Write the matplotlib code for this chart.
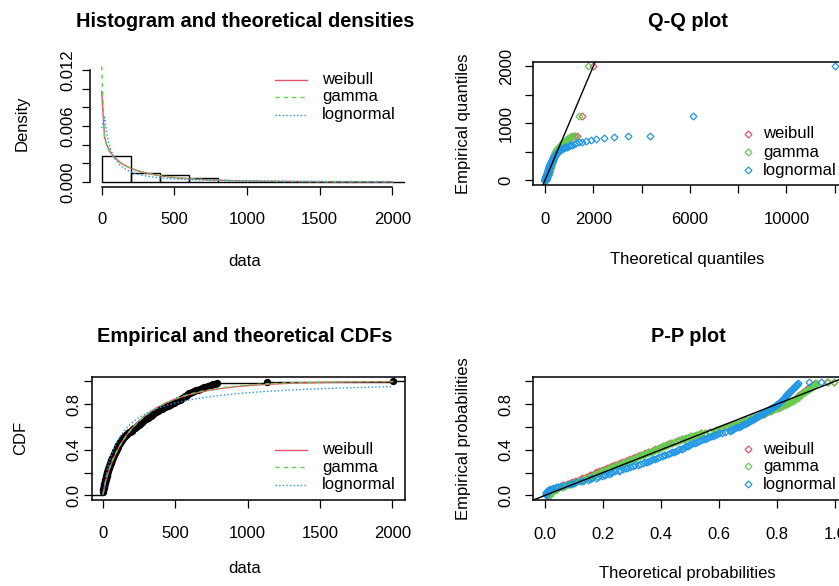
import math
import numpy as np
import matplotlib
matplotlib.use('Agg')
import matplotlib.pyplot as plt
from matplotlib.lines import Line2D

plt.rcParams['font.family'] = ['Liberation Sans', 'DejaVu Sans']

# --- dados (amostra, n = 150) ---
data = np.array([
    1, 1, 1, 1, 1, 2, 2,
    3, 3, 4, 5, 6, 7, 8, 10,
    11, 12, 13, 15, 16, 18, 19,
    20, 22, 23, 25, 26, 27, 29, 30,
    31, 33, 35, 36, 38, 40, 41, 43,
    45, 47, 49, 51, 53, 55, 57,
    59, 61, 63, 65, 67, 69, 72, 74,
    76, 79, 81, 84, 86, 89, 92,
    94, 97, 99, 102, 104, 107, 109, 112,
    115, 118, 122, 126, 130, 134, 138,
    142, 147, 151, 156, 160, 165, 170,
    178, 188, 201, 204,
    208, 214, 220, 227,
    234, 241, 247, 254, 260, 267, 273,
    280, 287, 294, 301, 308, 315, 322, 329,
    338, 346, 354, 362, 370, 378, 386, 394,
    405, 416, 427, 438, 449, 460, 470,
    480, 490, 500, 510, 520, 530, 540, 548,
    557, 565, 573, 581, 589, 596, 603,
    616, 630, 644, 657, 670,
    684, 698, 712, 726,
    748, 764, 776, 786,
    1131, 2004], dtype=float)

# parâmetros ajustados
weibull_shape, weibull_scale = 0.81, 233.0
gamma_shape, gamma_scale = 0.70, 364.0
lnorm_meanlog, lnorm_sdlog = 4.70, 1.73

dist_names = ['weibull', 'gamma', 'lognormal']
dist_colors = ['#DF536B', '#61D04F', '#2297E6']
dist_styles = ['-', (0, (3, 3)), (0, (1, 1.6))]

hist_breaks = np.arange(0, 2201, 200)
hist_xticks = [0, 500, 1000, 1500, 2000]
hist_yticks = [0, 0.002, 0.004, 0.006, 0.008, 0.010, 0.012]
hist_ylabels = ['0.000', '', '', '0.006', '', '', '0.012']
qq_xticks = [0, 2000, 4000, 6000, 8000, 10000, 12000]
qq_xlabels = ['0', '2000', '', '6000', '', '10000', '']
qq_yticks = [0, 500, 1000, 1500, 2000]
qq_ylabels = ['0', '', '1000', '', '2000']
prob_ticks = [0, 0.2, 0.4, 0.6, 0.8, 1.0]
prob_xlabels = ['0.0', '0.2', '0.4', '0.6', '0.8', '1.0']
prob_ylabels = ['0.0', '', '0.4', '', '0.8', '']

# --- densidades, distribuições e quantis ---
erf = np.vectorize(math.erf)


def dweibull(x):
    k, lam = weibull_shape, weibull_scale
    return (k / lam) * (x / lam) ** (k - 1) * np.exp(-(x / lam) ** k)


def pweibull(x):
    return 1 - np.exp(-(x / weibull_scale) ** weibull_shape)


def dgamma(x):
    a, s = gamma_shape, gamma_scale
    return np.exp((a - 1) * np.log(x) - x / s - math.lgamma(a) - a * math.log(s))


def pgamma(x):
    a = gamma_shape
    t = np.asarray(x, dtype=float) / gamma_scale
    term = np.full_like(t, 1.0 / a)
    total = term.copy()
    for k in range(1, 400):
        term = term * t / (a + k)
        total = total + term
    return np.minimum(total * np.exp(a * np.log(t) - t - math.lgamma(a)), 1.0)


def dlnorm(x):
    z = (np.log(x) - lnorm_meanlog) / lnorm_sdlog
    return np.exp(-z ** 2 / 2) / (x * lnorm_sdlog * np.sqrt(2 * np.pi))


def plnorm(x):
    return 0.5 * (1 + erf((np.log(x) - lnorm_meanlog) / (lnorm_sdlog * np.sqrt(2))))


def quantil(cdf, p):
    lo = np.full_like(p, np.log(1e-4))
    hi = np.full_like(p, np.log(1e5))
    for _ in range(80):
        mid = (lo + hi) / 2
        abaixo = cdf(np.exp(mid)) < p
        lo = np.where(abaixo, mid, lo)
        hi = np.where(abaixo, hi, mid)
    return np.exp((lo + hi) / 2)


dens_funcs = [dweibull, dgamma, dlnorm]
cdf_funcs = [pweibull, pgamma, plnorm]

n = len(data)
xs = np.sort(data)
pp = (np.arange(1, n + 1) - 0.5) / n
grid = np.linspace(xs[0], xs[-1], 101)
rng = xs[-1] - xs[0]
data_lim = (xs[0] - 0.04 * rng, xs[-1] + 0.04 * rng)

# --- figura ---
W, H = 839, 586
fig = plt.figure(figsize=(W / 100, H / 100), dpi=100)


def caixa(x0, y0, x1, y1):
    return fig.add_axes([x0 / W, 1 - y1 / H, (x1 - x0) / W, (y1 - y0) / H])


def estilo(ax, xpad, ypad):
    ax.tick_params(direction='out', length=5.5, width=0.9, labelsize=12, colors='black')
    ax.tick_params(axis='x', pad=xpad)
    ax.tick_params(axis='y', pad=ypad, labelrotation=90)
    for lab in ax.get_yticklabels():
        lab.set_va('center')
    for sp in ax.spines.values():
        sp.set_linewidth(1.1)


def texto(x, y, s, **kw):
    fig.text(x / W, 1 - y / H, s, fontsize=12, **kw)


def legenda(ys, x_key, x_text, linhas=True):
    for name, col, ls, y in zip(dist_names, dist_colors, dist_styles, ys):
        if linhas:
            fig.add_artist(Line2D([x_key[0] / W, x_key[1] / W], [1 - y / H] * 2,
                                  color=col, ls=ls, lw=1.0))
        else:
            fig.add_artist(Line2D([x_key / W], [1 - y / H], marker='D', ms=3.5,
                                  mfc='none', mec=col, mew=0.9, ls='none'))
        texto(x_text, y, name, ha='left', va='center')


# 1. histograma e densidades
ax1 = caixa(90, 61.7, 404.5, 186.5)
counts, _, _ = ax1.hist(data, bins=hist_breaks, density=True, facecolor='none',
                        edgecolor='black', linewidth=1.0)
top = max(counts.max(), *[f(grid).max() for f in dens_funcs])
for f, col, ls in zip(dens_funcs, dist_colors, dist_styles):
    ax1.plot(grid, f(grid), color=col, ls=ls, lw=1.0)
ax1.set_xlim(*data_lim)
ax1.set_ylim(-0.04 * top, 1.04 * top)
ax1.set_xticks(hist_xticks)
ax1.set_yticks(hist_yticks, labels=hist_ylabels)
ax1.spines['top'].set_visible(False)
ax1.spines['right'].set_visible(False)
ax1.spines['left'].set_bounds(hist_yticks[0], hist_yticks[-1])
ax1.spines['bottom'].set_bounds(hist_xticks[0], hist_xticks[-1])
estilo(ax1, 12.7, 5.0)

# 2. Q-Q plot
ax2 = caixa(533.3, 61.7, 846.6, 185)
qq_all = []
for cdf, col in zip(cdf_funcs, dist_colors):
    q = quantil(cdf, pp)
    qq_all.append(q)
    ax2.plot(q, xs, 'D', ms=3.5, mfc='none', mec=col, mew=0.9)
ax2.axline((0, 0), slope=1, color='black', lw=1.0)
qmin = min(q.min() for q in qq_all)
qmax = max(q.max() for q in qq_all)
ax2.set_xlim(qmin - 0.04 * (qmax - qmin), qmax + 0.04 * (qmax - qmin))
ax2.set_ylim(*data_lim)
ax2.set_xticks(qq_xticks, labels=qq_xlabels)
ax2.set_yticks(qq_yticks, labels=qq_ylabels)
estilo(ax2, 14.2, 8.6)

# 3. CDFs empírica e teóricas
ax3 = caixa(91.5, 376.7, 404.5, 500)
uniq, cnt = np.unique(data, return_counts=True)
ecdf = np.cumsum(cnt) / n
ax3.hlines(ecdf[:-1], uniq[:-1], uniq[1:], color='black', lw=1.0)
ax3.hlines([0, 1], [data_lim[0], uniq[-1]], [uniq[0], data_lim[1]], color='black', lw=1.0)
ax3.plot(uniq, ecdf, 'o', color='black', ms=4.3)
for f, col, ls in zip(cdf_funcs, dist_colors, dist_styles):
    ax3.plot(grid, f(grid), color=col, ls=ls, lw=1.0)
ax3.set_xlim(*data_lim)
ax3.set_ylim(-0.04, 1.04)
ax3.set_xticks(hist_xticks)
ax3.set_yticks(prob_ticks, labels=prob_ylabels)
estilo(ax3, 13.0, 2.1)

# 4. P-P plot
ax4 = caixa(533.3, 376.7, 846.6, 500)
for cdf, col in zip(cdf_funcs, dist_colors):
    ax4.plot(cdf(xs), pp, 'D', ms=3.5, mfc='none', mec=col, mew=0.9)
ax4.axline((0, 0), slope=1, color='black', lw=1.0)
ax4.set_xlim(-0.04, 1.04)
ax4.set_ylim(-0.04, 1.04)
ax4.set_xticks(prob_ticks, labels=prob_xlabels)
ax4.set_yticks(prob_ticks, labels=prob_ylabels)
estilo(ax4, 14.2, 8.6)

# --- títulos, rótulos e legendas ---
tit = dict(ha='center', va='center', fontsize=14.4, fontweight='bold')
fig.text(245 / W, 1 - 21.7 / H, 'Histogram and theoretical densities', **tit)
fig.text(688 / W, 1 - 21.7 / H, 'Q-Q plot', **tit)
fig.text(245 / W, 1 - 336.7 / H, 'Empirical and theoretical CDFs', **tit)
fig.text(688 / W, 1 - 336.7 / H, 'P-P plot', **tit)

texto(245, 266.5, 'data', ha='center', va='baseline')
texto(687, 264, 'Theoretical quantiles', ha='center', va='baseline')
texto(245, 573, 'data', ha='center', va='baseline')
texto(687, 578, 'Theoretical probabilities', ha='center', va='baseline')

texto(22, 123.3, 'Density', ha='center', va='center', rotation=90)
texto(463.3, 123.3, 'Empirical quantiles', ha='center', va='center', rotation=90)
texto(21, 438.3, 'CDF', ha='center', va='center', rotation=90)
texto(463.3, 438.3, 'Empirical probabilities', ha='center', va='center', rotation=90)

legenda([79.5, 97, 114.5], (275, 307), 322)
legenda([134, 152, 170], 748.3, 763.3, linhas=False)
legenda([450, 467.3, 485], (275, 307), 322)
legenda([449, 466, 484], 748.3, 763.3, linhas=False)

fig.savefig('out.png', dpi=100)
